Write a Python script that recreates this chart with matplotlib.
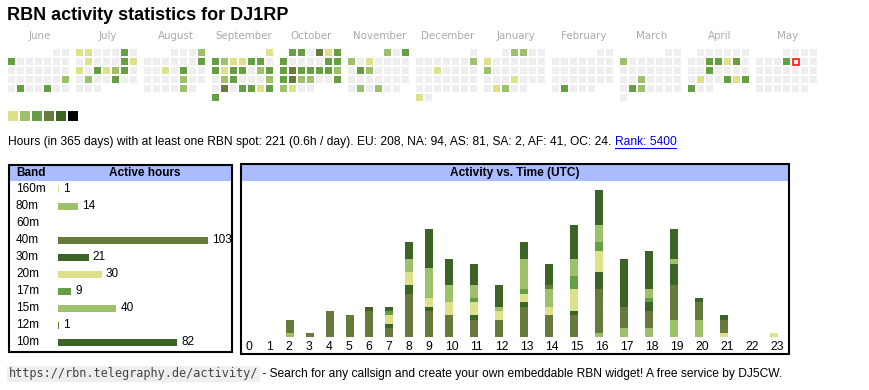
import datetime as dt
import numpy as np
import matplotlib.pyplot as plt
from matplotlib.patches import Rectangle

# ---------------------------------------------------------------
# data
# ---------------------------------------------------------------
palette = ["#dce18a", "#9dc16a", "#669e43", "#657a3b", "#3b6426", "#000000"]
empty_col = "#eeeeee"

months = [(2024, 6), (2024, 7), (2024, 8), (2024, 9), (2024, 10), (2024, 11),
          (2024, 12), (2025, 1), (2025, 2), (2025, 3), (2025, 4), (2025, 5)]
month_names = ["June", "July", "August", "September", "October", "November",
               "December", "January", "February", "March", "April", "May"]

# active days: day -> level (1..6)
act_jun = {3: 3, 23: 2, 25: 3, 28: 3}
act_jul = {1: 1, 2: 1, 6: 3, 9: 1, 13: 3, 14: 1, 15: 1, 17: 3, 18: 1, 19: 2,
           20: 3, 23: 2, 26: 3}
act_aug = {4: 2, 11: 3, 14: 1, 16: 3, 23: 2, 30: 2}
act_sep = {1: 1, 2: 3, 3: 2, 4: 1, 5: 1, 6: 3, 7: 3, 9: 3, 10: 1, 11: 3, 12: 3,
           14: 2, 15: 3, 17: 2, 18: 3, 22: 2, 24: 4, 26: 3, 27: 3, 28: 1, 29: 3,
           30: 3}
act_oct = {1: 3, 2: 3, 4: 4, 5: 1, 6: 3, 7: 3, 12: 3, 13: 3, 14: 3, 15: 4,
           16: 3, 17: 3, 18: 3, 19: 3, 20: 2, 21: 3, 22: 4, 23: 2, 24: 2, 27: 3,
           28: 2, 29: 1}
act_nov = {1: 2, 3: 3, 4: 2, 6: 1, 12: 3, 13: 2, 26: 2, 28: 2}
act_dec = {8: 2, 11: 1, 30: 1}
act_jan = {2: 2, 3: 2, 6: 1, 13: 2, 23: 1, 28: 1, 29: 2}
act_feb = {25: 3}
act_mar = {3: 2, 19: 2, 25: 3, 26: 2}
act_apr = {9: 3, 10: 3, 11: 1, 12: 3, 16: 3, 22: 1, 25: 3, 26: 1, 27: 3, 28: 3}
act_may = {8: 3}
activity = [act_jun, act_jul, act_aug, act_sep, act_oct, act_nov,
            act_dec, act_jan, act_feb, act_mar, act_apr, act_may]
today = dt.date(2025, 5, 9)

bands = ["160m", "80m", "60m", "40m", "30m", "20m", "17m", "15m", "12m", "10m"]
band_hours = [1, 14, 0, 103, 21, 30, 9, 40, 1, 82]
band_cols = ["#dce18a", "#9dc16a", "#669e43", "#657a3b", "#3b6426",
             "#dce18a", "#669e43", "#9dc16a", "#657a3b", "#3b6426"]

hours = list(range(24))
#         0  1  2  3  4  5  6  7  8   9 10 11 12 13 14 15  16  17 18 19 20 21 22 23
h_160m = [0, 0, 0, 0, 0, 0, 0, 0, 0, 0, 0, 0, 0, 0, 0, 0, 0, 0, 0, 0, 0, 1, 0, 0]
h_80m  = [0, 0, 1, 0, 0, 0, 0, 0, 0, 0, 0, 0, 0, 0, 0, 0, 1, 2, 2, 4, 4, 0, 0, 0]
h_60m  = [0] * 24
h_40m  = [0, 0, 3, 1, 6, 5, 6, 2, 10, 6, 5, 4, 4, 7, 5, 5, 10, 5, 4, 8, 4, 3, 0, 0]
h_30m  = [0, 0, 0, 0, 0, 0, 1, 1, 2, 1, 0, 1, 0, 1, 0, 1, 4, 0, 2, 5, 1, 1, 0, 0]
h_20m  = [0, 0, 0, 0, 0, 0, 0, 2, 3, 2, 3, 3, 2, 2, 2, 5, 5, 0, 0, 0, 0, 0, 0, 1]
h_17m  = [0, 0, 0, 0, 0, 0, 0, 1, 0, 0, 0, 1, 0, 1, 0, 3, 2, 0, 1, 0, 0, 0, 0, 0]
h_15m  = [0, 0, 0, 0, 0, 0, 0, 0, 3, 7, 4, 3, 1, 7, 4, 4, 4, 0, 2, 1, 0, 0, 0, 0]
h_12m  = [0, 0, 0, 0, 0, 0, 0, 0, 0, 0, 0, 0, 0, 0, 1, 0, 0, 0, 0, 0, 0, 0, 0, 0]
h_10m  = [0, 0, 0, 0, 0, 0, 0, 1, 4, 9, 6, 5, 5, 4, 5, 8, 8, 11, 9, 7, 0, 0, 0, 0]
hour_stack = [h_160m, h_80m, h_60m, h_40m, h_30m, h_20m, h_17m, h_15m, h_12m, h_10m]

title = "RBN activity statistics for DJ1RP"
summary = ("Hours (in 365 days) with at least one RBN spot: 221 (0.6h / day). "
           "EU: 208, NA: 94, AS: 81, SA: 2, AF: 41, OC: 24. ")
rank = "Rank: 5400"
url = "https://rbn.telegraphy.de/activity/"
footer = " - Search for any callsign and create your own embeddable RBN widget! A free service by DJ5CW."

# ---------------------------------------------------------------
# figure, one pixel-space background axes
# ---------------------------------------------------------------
W, H = 870, 390
plt.rcParams["font.family"] = ["Liberation Sans", "DejaVu Sans"]
fig = plt.figure(figsize=(W / 100, H / 100), dpi=100)
bg = fig.add_axes([0, 0, 1, 1])
bg.set_xlim(0, W); bg.set_ylim(H, 0); bg.axis("off")

def px_axes(x0, y0, x1, y1):
    return fig.add_axes([x0 / W, 1 - y1 / H, (x1 - x0) / W, (y1 - y0) / H])

bg.text(7, 15, title, fontsize=13, fontweight="bold", va="center")

# calendar heatmap
block_w, pitch, cell = 68, 9, 7.3
for i, ((yy, mm), name, act) in enumerate(zip(months, month_names, activity)):
    bx = 8 + block_w * i
    bg.text(bx + 31.5, 36, name, fontsize=7.4, color="#aaaaaa",
            family="DejaVu Sans", ha="center", va="center")
    first = dt.date(yy, mm, 1)
    nxt = dt.date(yy + (mm == 12), mm % 12 + 1, 1)
    for d in range(1, (nxt - first).days + 1):
        day = dt.date(yy, mm, d)
        col = day.weekday()
        row = (d - 1 + first.weekday()) // 7
        lvl = act.get(d, 0)
        fc = palette[lvl - 1] if lvl else empty_col
        x, y = bx + pitch * col, 49 + pitch * row
        if day == today:
            bg.add_patch(Rectangle((x + 0.6, y + 0.6), cell - 1.2, cell - 1.2,
                                   facecolor=empty_col, edgecolor="red", lw=1.1))
        else:
            bg.add_patch(Rectangle((x, y), cell, cell, facecolor=fc, lw=0))

for k, c in enumerate(palette):
    bg.add_patch(Rectangle((8 + 12 * k, 111), 10, 10, facecolor=c, lw=0))

# summary line with link
t = bg.text(8, 142, summary, fontsize=8.62, va="center")
fig.canvas.draw()
r = fig.canvas.get_renderer()
bb = t.get_window_extent(renderer=r)
rk = bg.text(bb.x1, 142, rank, fontsize=8.62, va="center", color="#0000ee")
fig.canvas.draw()
bb2 = rk.get_window_extent(renderer=r)
bg.plot([bb2.x0, bb2.x1], [147.5, 147.5], color="#0000ee", lw=0.8)

# ---------------------------------------------------------------
# left table: active hours per band
# ---------------------------------------------------------------
bg.add_patch(Rectangle((10, 165.7), 221.7, 15, facecolor="#aabbff", lw=0))
bg.add_patch(Rectangle((9, 164.8), 222.7, 187, facecolor="none",
                       edgecolor="black", lw=1.5))
bg.text(16, 173, "Band", fontsize=8.5, fontweight="bold", va="center")
bg.text(145, 173, "Active hours", fontsize=8.5, fontweight="bold",
        va="center", ha="center")

axl = px_axes(58, 180.8, 208, 350.6)
ypos = np.arange(len(bands))
axl.barh(ypos, band_hours, height=0.41, color=band_cols)
axl.set_xlim(0, max(band_hours))
axl.set_ylim(len(bands) - 0.5, -0.5)
axl.axis("off")
for yi, b, v in zip(ypos, bands, band_hours):
    axl.text(-42 / 150, yi, b, transform=axl.get_yaxis_transform(),
             fontsize=8.5, va="center")
    if v:
        axl.annotate(str(v), (v, yi), xytext=(4, 0), textcoords="offset pixels",
                     fontsize=8.5, va="center", annotation_clip=False)

# ---------------------------------------------------------------
# right table: activity vs. time
# ---------------------------------------------------------------
bg.add_patch(Rectangle((242, 164.7), 546, 16, facecolor="#aabbff", lw=0))
bg.add_patch(Rectangle((241.3, 163.7), 548.2, 190.1, facecolor="none",
                       edgecolor="black", lw=1.5))
bg.text(515, 173, "Activity vs. Time (UTC)", fontsize=8.6, fontweight="bold",
        va="center", ha="center")

axr = px_axes(240, 190, 790, 337)
col_w = [19.9 if h < 10 else 25 for h in hours]
lefts = 246 + np.concatenate([[0], np.cumsum(col_w)[:-1]])
bottom = np.zeros(24)
for vals, c in zip(hour_stack, band_cols):
    vals = np.array(vals)
    axr.bar(lefts, vals, width=8, bottom=bottom, align="edge", color=c, lw=0)
    bottom += vals
axr.set_xlim(240, 790)
axr.set_ylim(0, bottom.max())
axr.axis("off")
for x, h in zip(lefts, hours):
    axr.annotate(str(h), (x, 0), xytext=(0, -10), textcoords="offset pixels",
                 fontsize=8.7, va="center", ha="left", annotation_clip=False)

# ---------------------------------------------------------------
# footer
# ---------------------------------------------------------------
u = bg.text(9, 374, url, fontsize=8.6, family="DejaVu Sans Mono", color="#444444",
            va="center", bbox=dict(boxstyle="square,pad=0.15", fc="#eeeeee", ec="none"))
fig.canvas.draw()
ub = u.get_window_extent(renderer=r)
bg.text(ub.x1 + 1, 374, footer, fontsize=8.66, va="center")

fig.savefig("out.png", dpi=100)
